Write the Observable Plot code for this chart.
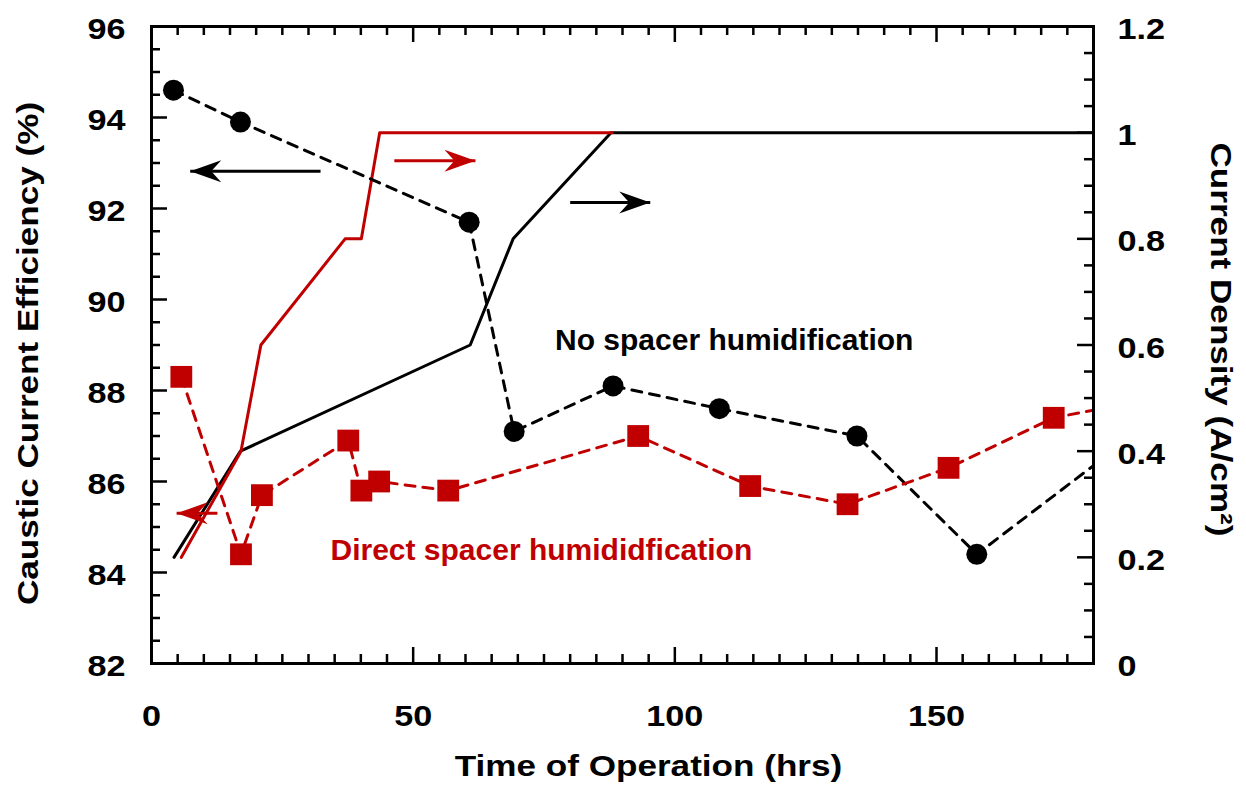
<!DOCTYPE html>
<html>
<head>
<meta charset="utf-8">
<script src="https://cdn.jsdelivr.net/npm/d3@7"></script>
<script src="https://cdn.jsdelivr.net/npm/@observablehq/plot@0.6"></script>
<style>
  html, body { margin: 0; padding: 0; background: #ffffff; }
  #chart { width: 1246px; height: 787px; }
</style>
</head>
<body>
<div id="chart"></div>
<script>
// ---------- data ----------
// Caustic current efficiency (left axis, %)
const timeNoSpacer = [4.2, 17.0, 60.7, 69.3, 88.2, 108.5, 134.8, 157.7];
const effNoSpacer  = [94.6, 93.9, 91.7, 87.1, 88.1, 87.6, 87.0, 84.4];
const timeNoSpacerEdge = 180, effNoSpacerEdge = 86.35;   // dashed line leaves the frame here

const timeDirect = [5.7, 17.1, 21.1, 37.6, 40.1, 43.5, 56.7, 93.0, 114.4, 133.0, 152.3, 172.4];
const effDirect  = [88.3, 84.4, 85.7, 86.9, 85.8, 86.0, 85.8, 87.0, 85.9, 85.5, 86.3, 87.4];
const timeDirectEdge = 180, effDirectEdge = 87.57;

// Current density (right axis, A/cm2)
const timeCdNoSpacer = [4.3, 17.0, 60.9, 69.1, 87.8, 180];
const cdNoSpacer     = [0.2, 0.4, 0.6, 0.8, 1.0, 1.0];
const timeCdDirect   = [5.7, 17.1, 20.9, 37.0, 40.1, 43.6, 88.0];
const cdDirect       = [0.2, 0.4, 0.6, 0.8, 0.8, 1.0, 1.0];

// axis ticks
const xMajor = [0, 50, 100, 150];
const xMinor = d3.range(5, 180, 5).filter(v => v % 50 !== 0);
const yLeftMajor = [82, 84, 86, 88, 90, 92, 94, 96];
const yLeftMinor = d3.range(82.5, 96, 0.5).filter(v => v % 2 !== 0);
const yRightMajor = [0, 0.2, 0.4, 0.6, 0.8, 1.0, 1.2];
const yRightLabels = ["0", "0.2", "0.4", "0.6", "0.8", "1", "1.2"];
const yRightMinor = d3.range(1, 24).map(i => i * 0.05).filter((v, i) => (i + 1) % 4 !== 0);

// annotation arrows (x1 tail, x2 tip, y on left axis)
const arrowsBlack = [{x1: 32.3, x2: 7.4, y: 92.82}, {x1: 80.0, x2: 95.3, y: 92.13}];
const arrowsRed   = [{x1: 46.4, x2: 61.9, y: 93.05}, {x1: 12.6, x2: 4.8, y: 85.3}];

const labelNo = {x: 77.1, y: 89.1, text: "No spacer humidification"};
const labelDirect = {x: 34.2, y: 84.48, text: "Direct spacer humididfication"};

const titleLeft = "Caustic Current Efficiency (%)";
const titleRight = "Current Density (A/cm²)";
const titleBottom = "Time of Operation (hrs)";

// ---------- helpers ----------
const RED = "#c00000";
const toLeft = v => 82 + v * 14 / 1.2;
const W = 1246, H = 787;
const mL = 151, mR = 153, mT = 26, mB = 124;
const PW = W - mL - mR, PH = H - mT - mB;

const pts = (xs, ys) => xs.map((x, i) => ({x, y: ys[i]}));
const noLine = pts([...timeNoSpacer, timeNoSpacerEdge], [...effNoSpacer, effNoSpacerEdge]);
const dirLine = pts([...timeDirect, timeDirectEdge], [...effDirect, effDirectEdge]);
const noPts = pts(timeNoSpacer, effNoSpacer);
const dirPts = pts(timeDirect, effDirect);
const cdNo = pts(timeCdNoSpacer, cdNoSpacer.map(toLeft));
const cdDir = pts(timeCdDirect, cdDirect.map(toLeft));

// swept arrowhead symbol, tip at origin pointing +x
const stealth = {
  draw(context, size) {
    const k = Math.sqrt(size / Math.PI) / 10;
    context.moveTo(0, 0);
    context.lineTo(-31 * k, -11 * k);
    context.lineTo(-21 * k, 0);
    context.lineTo(-31 * k, 11 * k);
    context.closePath();
  }
};

const FONT = "'Liberation Sans', Arial, Helvetica, sans-serif";
const txt = {fontSize: 30, fontWeight: "bold", fill: "black"};

const chart = Plot.plot({
  width: W, height: H,
  marginLeft: mL, marginRight: mR, marginTop: mT, marginBottom: mB,
  style: {fontFamily: FONT, background: "white", overflow: "visible"},
  x: {domain: [0, 180], axis: null},
  y: {domain: [82, 96], axis: null},
  marks: [
    // current density lines
    Plot.line(cdNo, {x: "x", y: "y", stroke: "black", strokeWidth: 3, clip: true}),
    Plot.line(cdDir, {x: "x", y: "y", stroke: RED, strokeWidth: 3, clip: true}),
    // efficiency dashed lines
    Plot.line(noLine, {x: "x", y: "y", stroke: "black", strokeWidth: 3, strokeDasharray: "10,8", clip: true}),
    Plot.line(dirLine, {x: "x", y: "y", stroke: RED, strokeWidth: 3, strokeDasharray: "10,8", clip: true}),
    Plot.dot(noPts, {x: "x", y: "y", r: 10.5, fill: "black", stroke: "none"}),
    Plot.dot(dirPts, {x: "x", y: "y", r: 12.3, symbol: "square", fill: RED, stroke: "none"}),
    // arrows
    Plot.link(arrowsBlack, {x1: "x1", x2: "x2", y1: "y", y2: "y", stroke: "black", strokeWidth: 3}),
    Plot.dot(arrowsBlack, {x: "x2", y: "y", r: 10, symbol: stealth, fill: "black", stroke: "none",
      rotate: d => d.x2 < d.x1 ? 180 : 0}),
    Plot.link(arrowsRed, {x1: "x1", x2: "x2", y1: "y", y2: "y", stroke: RED, strokeWidth: 3}),
    Plot.dot(arrowsRed, {x: "x2", y: "y", r: 10, symbol: stealth, fill: RED, stroke: "none",
      rotate: d => d.x2 < d.x1 ? 180 : 0}),
    // annotation labels
    Plot.text([labelNo], {x: "x", y: "y", text: "text", textAnchor: "start", ...txt}),
    Plot.text([labelDirect], {x: "x", y: "y", text: "text", textAnchor: "start", ...txt, fill: RED}),
    // frame
    Plot.frame({stroke: "black", strokeWidth: 3}),
    // ticks (inward)
    Plot.ruleX(xMajor, {x: d => d, insetTop: PH - 16, stroke: "black", strokeWidth: 2.5}),
    Plot.ruleX(xMinor, {x: d => d, insetTop: PH - 9, stroke: "black", strokeWidth: 2.5}),
    Plot.ruleX(xMajor, {x: d => d, insetBottom: PH - 16, stroke: "black", strokeWidth: 2.5}),
    Plot.ruleX(xMinor, {x: d => d, insetBottom: PH - 9, stroke: "black", strokeWidth: 2.5}),
    Plot.ruleY(yLeftMajor, {y: d => d, insetRight: PW - 16, stroke: "black", strokeWidth: 2.5}),
    Plot.ruleY(yLeftMinor, {y: d => d, insetRight: PW - 9, stroke: "black", strokeWidth: 2.5}),
    Plot.ruleY(yRightMajor.map(toLeft), {y: d => d, insetLeft: PW - 16, stroke: "black", strokeWidth: 2.5}),
    Plot.ruleY(yRightMinor.map(toLeft), {y: d => d, insetLeft: PW - 9, stroke: "black", strokeWidth: 2.5}),
    // tick labels
    Plot.text(yLeftMajor, {y: d => d, text: d => String(d), frameAnchor: "left", dx: -26, dy: 3,
      textAnchor: "end", ...txt}),
    Plot.text(yRightMajor, {y: d => toLeft(d), text: (d, i) => yRightLabels[i], frameAnchor: "right",
      dx: 24, dy: 3, textAnchor: "start", ...txt}),
    Plot.text(xMajor, {x: d => d, text: d => String(d), frameAnchor: "bottom", dy: 62, ...txt}),
    // axis titles
    Plot.text([titleLeft], {text: d => d, frameAnchor: "left", dx: -123, rotate: -90, ...txt}),
    Plot.text([titleRight], {text: d => d, frameAnchor: "right", dx: 127, rotate: 90, ...txt}),
    Plot.text([titleBottom], {text: d => d, frameAnchor: "bottom", dx: 26, dy: 112, ...txt})
  ]
});

document.getElementById("chart").appendChild(chart);

// the reference's axis texts are drawn a little wider than the in-plot labels
const inPlot = new Set([labelNo.text, labelDirect.text]);
const titles = new Set([titleLeft, titleRight, titleBottom]);
// shift along the text direction for the rotated titles (screen px)
const rotShift = {[titleLeft]: -8.5, [titleRight]: -5.5};
chart.querySelectorAll("text").forEach(t => {
  const s = t.textContent;
  if (inPlot.has(s)) return;
  const f = titles.has(s) ? 1.17 : 1.14;
  const len = t.getComputedTextLength();
  if (!(len > 0)) return;
  const L = len * f;
  t.setAttribute("textLength", L.toFixed(1));
  t.setAttribute("lengthAdjust", "spacingAndGlyphs");
  if (s in rotShift) {
    t.setAttribute("text-anchor", "start");
    t.setAttribute("x", (-L / 2 + rotShift[s]).toFixed(1));
  }
});
</script>
</body>
</html>
